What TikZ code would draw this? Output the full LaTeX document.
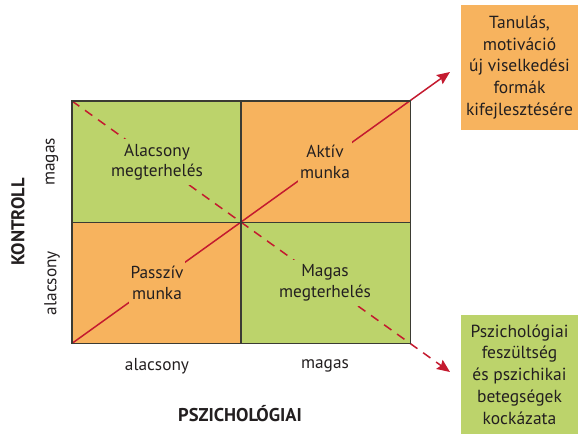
\documentclass[tikz,border=0pt]{standalone}
\usepackage{fontspec}
\setmainfont{PT Sans}
\usetikzlibrary{arrows.meta}
\definecolor{cellorange}{HTML}{F7B35E}
\definecolor{cellgreen}{HTML}{BCD36B}
\definecolor{arrowred}{HTML}{C41A2F}
\definecolor{gridline}{HTML}{3B3B33}
\definecolor{inktext}{HTML}{231F20}
\tikzset{
  cell/.style={rectangle, inner sep=0pt, minimum width=169pt, minimum height=121pt, anchor=north west},
  celltext/.style={align=center, inner xsep=2pt, inner ysep=5pt, font=\fontsize{17.3}{20.5}\selectfont, text=inktext},
  outcome/.style={rectangle, inner sep=0pt, minimum width=117pt, align=center,
    font=\fontsize{17.5}{21.8}\selectfont, text=inktext},
  axistext/.style={font=\fontsize{17.3}{20}\selectfont, text=inktext},
  axistitle/.style={font=\bfseries\fontsize{18.5}{20}\selectfont, text=inktext},
  redline/.style={draw=arrowred, line width=1.5pt, -{Stealth[length=13pt,width=11pt,inset=2pt]}},
  reddash/.style={redline, dash pattern=on 9pt off 7pt},
}
\begin{document}
\begin{tikzpicture}[x=1pt,y=-1pt]
\useasboundingbox (0,0) rectangle (586,437);

% quadrant fills
\node[cell, fill=cellgreen]  (lowload)  at (72,101)  {};
\node[cell, fill=cellorange] (active)   at (241,101) {};
\node[cell, fill=cellorange] (passive)  at (72,222)  {};
\node[cell, fill=cellgreen]  (highload) at (241,222) {};

% outcome boxes
\node[outcome, fill=cellorange, minimum height=125pt] (learn) at (519.5,67.5)
  {Tanulás,\\motiváció\\új viselkedési\\formák\\kifejlesztésére};
\node[outcome, fill=cellgreen, minimum height=119pt] (strain) at (519.5,374.5)
  {Pszichológiai\\feszültség\\és pszichikai\\betegségek\\kockázata};

% diagonals
\coordinate (tipup)   at (450,72);
\coordinate (tipdown) at (450,372);
\draw[redline] (passive.south west) -- (tipup);
\draw[reddash] (lowload.north west) -- (tipdown);

% quadrant labels (their fill interrupts the diagonals)
\node[celltext, fill=cellgreen]  (lowloadtxt)  at (157,162) {Alacsony\\megterhelés};
\node[celltext, fill=cellorange] (activetxt)   at (325,162) {Aktív\\munka};
\node[celltext, fill=cellorange] (passivetxt)  at (157,283) {Passzív\\munka};
\node[celltext, fill=cellgreen]  (highloadtxt) at (325,283) {Magas\\megterhelés};

% grid lines
\draw[gridline, line width=1.6pt] (lowload.north west) rectangle (highload.south east);
\draw[gridline, line width=1.6pt] (active.north west) -- (highload.south west);
\draw[gridline, line width=1.6pt] (lowload.south west) -- (active.south east);

% axis labels
\node[axistext, rotate=90] (yhigh) at (52,162) {magas};
\node[axistext, rotate=90] (ylow)  at (52,283) {alacsony};
\node[axistitle, rotate=90] (ytitle) at (18,222) {KONTROLL};
\node[axistext] (xlow)  at (157,366) {alacsony};
\node[axistext] (xhigh) at (325,366) {magas};
\node[axistitle] (xtitle) at (240,414) {PSZICHOLÓGIAI};
\end{tikzpicture}
\end{document}
